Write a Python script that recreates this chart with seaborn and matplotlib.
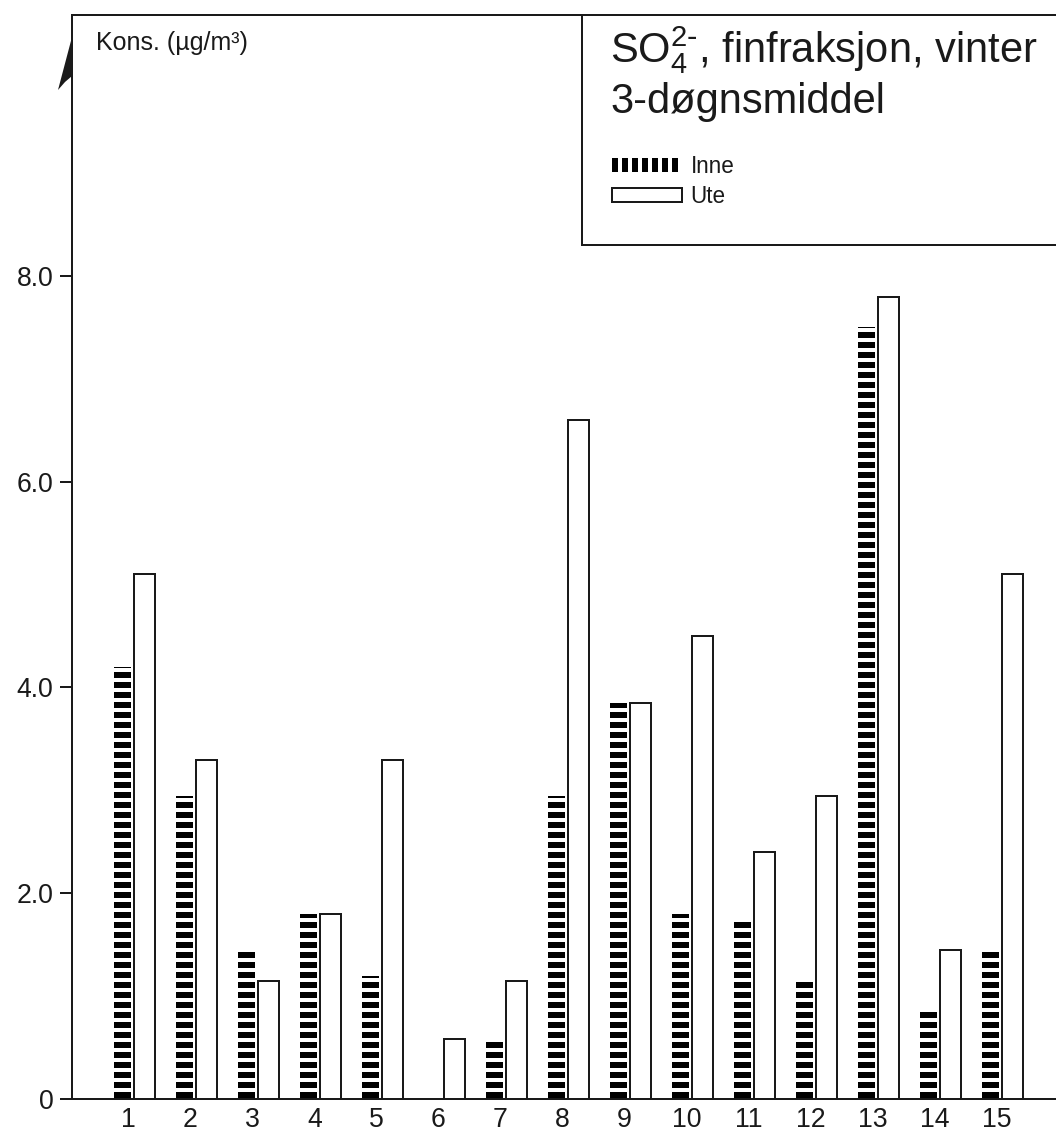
import numpy as np
import pandas as pd
import seaborn as sns
import matplotlib
matplotlib.use("Agg")
import matplotlib.pyplot as plt
from matplotlib.patches import Patch, Rectangle, Polygon

# Sulphate (fine fraction), winter, 3-day means per station
stasjoner = [str(i) for i in range(1, 16)]
inne = [4.2, 2.95, 1.45, 1.8, 1.2, 0.0, 0.55, 2.95, 3.85, 1.8, 1.75, 1.15, 7.5, 0.85, 1.45]
ute = [5.1, 3.3, 1.15, 1.8, 3.3, 0.58, 1.15, 6.6, 3.85, 4.5, 2.4, 2.95, 7.8, 1.45, 5.1]
y_ticks = [0, 2, 4, 6, 8]
y_ticklabels = ["0", "2.0", "4.0", "6.0", "8.0"]

df = pd.DataFrame({
    "stasjon": stasjoner * 2,
    "type": ["Inne"] * len(inne) + ["Ute"] * len(ute),
    "kons": inne + ute,
})

sns.set_theme(style="white")
plt.rcParams["font.family"] = ["Liberation Sans", "DejaVu Sans"]
plt.rcParams["mathtext.default"] = "regular"
plt.rcParams["hatch.linewidth"] = 3.6
plt.rcParams["hatch.color"] = "black"

DPI = 120
W, H = 1056, 1133
INK = "#1a1a1a"
fig = plt.figure(figsize=(W / DPI, H / DPI), dpi=DPI)
fig.patch.set_facecolor("white")

# axes frame in pixel terms: left spine at 72, baseline at 1099, top at 15
ax = fig.add_axes([72 / W, 1 - 1099 / H, 1005 / W, (1099 - 15) / H])
ax.set_facecolor("white")

sns.barplot(data=df, x="stasjon", y="kons", hue="type", hue_order=["Inne", "Ute"],
            palette={"Inne": "white", "Ute": "white"}, width=0.66, saturation=1,
            errorbar=None, legend=False, ax=ax)

# indoor bars: narrow, dashed fill, no outline
for bar in ax.containers[0]:
    bar.set_width(0.27)
    bar.set_hatch("--")
    bar.set_edgecolor("black")
    bar.set_linewidth(0)
# outdoor bars: open with black outline
for bar in ax.containers[1]:
    bar.set_x(bar.get_x() - 0.01)
    bar.set_width(0.34)
    bar.set_edgecolor(INK)
    bar.set_linewidth(1.2)

ax.set_xlim(-1.008, 15.2)
ax.set_ylim(0, 10.537)
ax.set_yticks(y_ticks)
ax.set_yticklabels(y_ticklabels)
ax.set_xticks(np.arange(len(stasjoner)) - 0.1)
ax.set_xticklabels(stasjoner)
ax.set_xlabel("")
ax.set_ylabel("")

ax.tick_params(axis="y", direction="out", length=7.2, width=1.2, color=INK,
               labelsize=16, pad=4, labelcolor=INK, left=True)
ax.tick_params(axis="x", length=0, labelsize=16, pad=5, labelcolor=INK)

for side in ["left", "top", "bottom"]:
    ax.spines[side].set_visible(True)
    ax.spines[side].set_color(INK)
    ax.spines[side].set_linewidth(1.2)
ax.spines["right"].set_visible(False)


def fx(px):
    return px / W


def fy(py):
    return 1 - py / H


# arrowhead on the vertical axis
fig.patches.append(Polygon([(fx(72), fy(37)), (fx(58), fy(90)), (fx(65), fy(82)), (fx(72), fy(76))],
                           closed=True, facecolor=INK, edgecolor="none",
                           transform=fig.transFigure, zorder=5))

# axis unit label
fig.text(fx(96), fy(50), "Kons. (µg/m³)", fontsize=15, color=INK, va="baseline", ha="left")

# key box in the upper right corner
fig.patches.append(Rectangle((fx(582), fy(245)), 1.05 - fx(582), fy(15) - fy(245),
                             facecolor="white", edgecolor=INK, linewidth=1.2,
                             transform=fig.transFigure, zorder=4))
fig.text(fx(610), fy(62), r"SO$_4^{2\text{-}}$, finfraksjon, vinter", fontsize=25,
         color=INK, va="baseline", ha="left", zorder=6)
fig.text(fx(610), fy(113), "3-døgnsmiddel", fontsize=25,
         color=INK, va="baseline", ha="left", zorder=6)

handles = [
    Patch(facecolor="white", edgecolor="black", hatch="||", linewidth=0, label="Inne"),
    Patch(facecolor="white", edgecolor=INK, linewidth=1.2, label="Ute"),
]
leg = fig.legend(handles=handles, loc="upper left", bbox_to_anchor=(fx(612), fy(155)),
                 frameon=False, fontsize=13.5, handlelength=3.1, handleheight=0.55,
                 handletextpad=0.4, borderpad=0, borderaxespad=0, labelspacing=0.3)
for t in leg.get_texts():
    t.set_color(INK)
leg.set_zorder(7)

fig.savefig("out.png", dpi=DPI, facecolor="white")
